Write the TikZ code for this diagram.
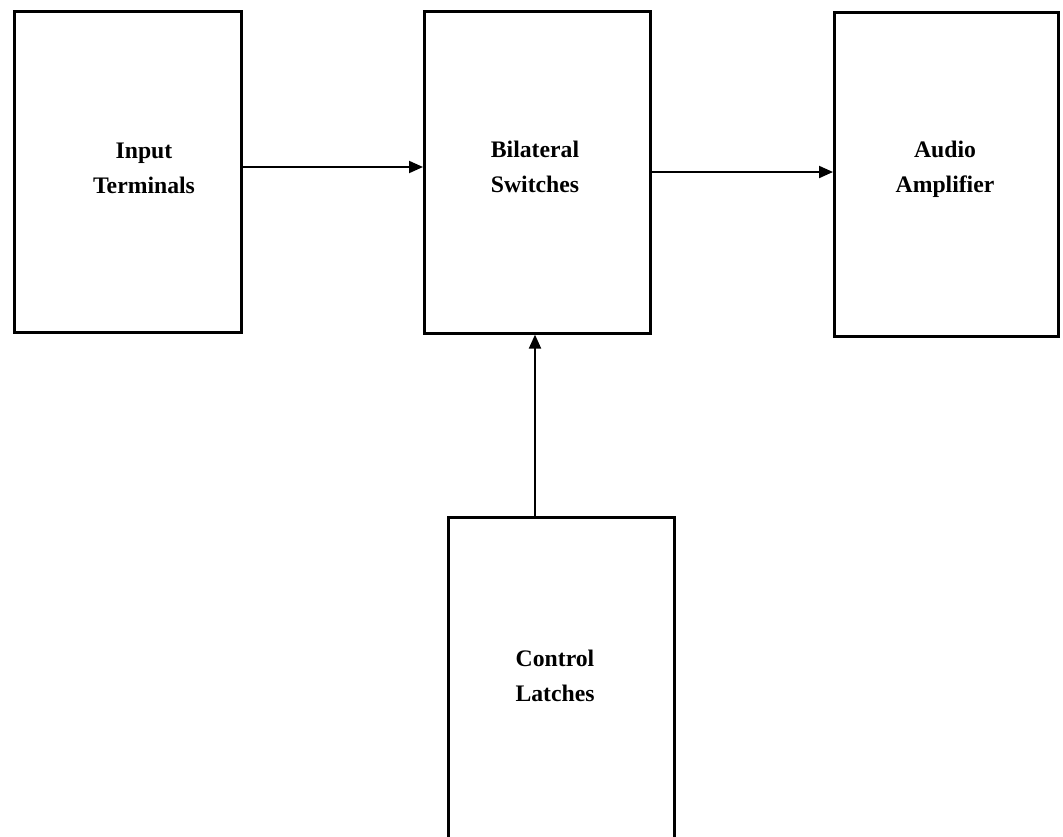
\documentclass[tikz,border=0pt]{standalone}
\usepackage{fontspec}
\setmainfont{Liberation Serif}
\usetikzlibrary{arrows.meta}
\begin{document}
\begin{tikzpicture}[x=1pt,y=-1pt,
  blk/.style={draw, line width=2.6pt, inner sep=0pt, anchor=north west},
  lbl/.style={font=\fontsize{23.7}{35}\selectfont\bfseries, align=center, inner sep=0pt},
  conn/.style={line width=2pt, -{Triangle[length=14pt,width=12pt]}}]
\useasboundingbox (0,0) rectangle (1063,836);
\clip (0,0) rectangle (1063,836);
\node[blk, minimum width=227pt, minimum height=321pt] (inp) at (13,10) {};
\node[blk, minimum width=226pt, minimum height=322pt] (bil) at (423,10) {};
\node[blk, minimum width=224pt, minimum height=324pt] (amp) at (833,11) {};
\node[blk, minimum width=226pt, minimum height=340pt] (ctl) at (447,516) {};
\node[lbl] (inpT) at (144,168) {Input\\Terminals};
\node[lbl] (bilT) at (535,167) {Bilateral\\Switches};
\node[lbl] (ampT) at (945,169) {Audio\\Amplifier};
\node[lbl] (ctlT) at (555,676) {Control\\Latches};
\draw[conn] (inp.east |- 0,167) -- (bil.west |- 0,167);
\draw[conn] (bil.east |- 0,172) -- (amp.west |- 0,172);
\draw[conn] (ctl.north -| 535,0) -- (bil.south -| 535,0);
\end{tikzpicture}
\end{document}
